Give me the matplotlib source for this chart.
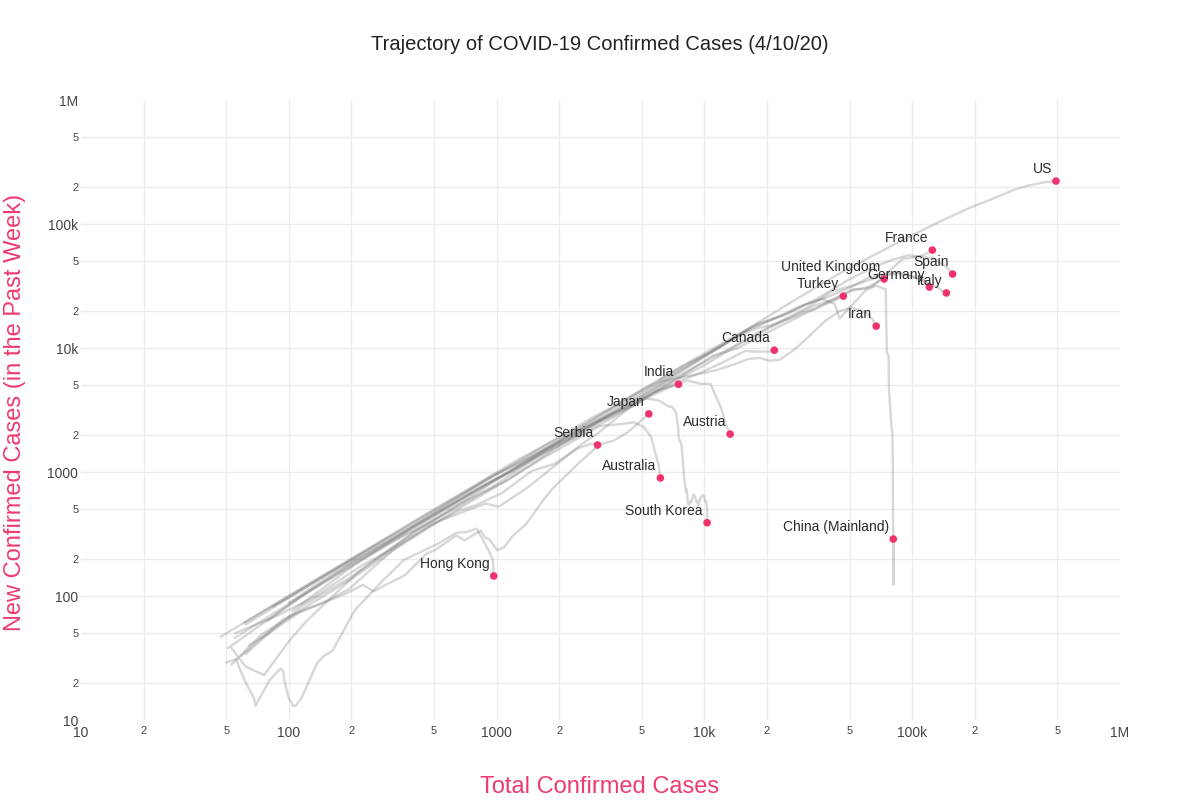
import matplotlib
matplotlib.use("Agg")
import matplotlib.pyplot as plt
from matplotlib.ticker import FixedLocator, NullLocator

plt.rcParams['font.family'] = ['Liberation Sans', 'DejaVu Sans']

# ---------------- data (total confirmed, new in past week) ----------------
us_total = [53, 62, 76, 101, 122, 217, 417, 568, 1281, 2179, 3499, 6421, 13677, 25489, 43847,
            65778, 101657, 140886, 188172, 243453, 311357, 366614, 432132, 492000]
us_new = [38, 27, 23, 44, 63, 157, 347, 467, 1126, 1919, 3000, 5460, 12000, 22800, 39200,
          56400, 82500, 107600, 134500, 159600, 189900, 204800, 217000, 222000]

it_total = [62, 229, 453, 888, 1694, 2502, 3858, 5883, 9172, 12462, 17660, 24747, 31506, 41035,
            53578, 63927, 74386, 86498, 97689, 105792, 115242, 124632, 132547, 139422, 146000]
it_new = [59, 226, 450, 868, 1539, 2180, 3203, 4755, 7136, 9373, 13024, 17372, 21357, 28573,
          32421, 35947, 38673, 39477, 38551, 36616, 34653, 32160, 30808, 28848, 27800]

es_total = [84, 165, 259, 500, 1073, 2277, 5232, 7798, 11748, 17963, 25374, 35136, 49515, 65719,
            80110, 95923, 112065, 126168, 136675, 148220, 156500]
es_new = [82, 159, 244, 455, 953, 2055, 4832, 7125, 10053, 15686, 18983, 25194, 35605, 45309,
          51342, 56038, 54279, 52933, 48719, 44102, 39500]

fr_total = [100, 130, 204, 380, 957, 1217, 2289, 3667, 4513, 7699, 10947, 14431, 19856, 25233,
            32964, 40174, 52128, 59105, 64338, 89953, 98010, 112950, 125000]
fr_new = [88, 118, 190, 342, 857, 1026, 2001, 3011, 3379, 5907, 8663, 9951, 13206, 16128,
          20238, 23998, 29824, 29950, 31374, 52378, 53460, 55961, 61600]

de_total = [79, 130, 196, 482, 799, 1176, 1908, 3675, 5795, 9257, 15320, 22213, 29056, 37323,
            50871, 62095, 71808, 84794, 96092, 103374, 113296, 121000]
de_new = [63, 114, 179, 436, 720, 1017, 1646, 3005, 4755, 7800, 13242, 17628, 21784, 24996,
          31023, 37222, 38822, 40856, 38397, 36489, 35424, 31000]

uk_total = [51, 116, 209, 321, 459, 802, 1144, 1960, 2716, 5067, 6726, 9640, 14745, 19780,
            25481, 33718, 41903, 51608, 60733, 73300]
uk_new = [38, 101, 186, 281, 373, 638, 871, 1576, 2257, 3923, 5175, 6998, 10731, 14039,
          17317, 21906, 24591, 29155, 30868, 36000]

tr_total = [47, 98, 191, 359, 670, 947, 1236, 1529, 1872, 2433, 3629, 5698, 7402, 9217, 10827,
            13531, 15679, 18135, 20921, 23934, 27069, 30217, 34109, 38226, 42282, 46600]
tr_new = [47, 98, 191, 358, 665, 942, 1230, 1482, 1774, 2242, 3270, 5028, 6455, 7981, 9298,
          11659, 13246, 14506, 15223, 16532, 17852, 19390, 20578, 22547, 24147, 26200]

ir_total = [61, 95, 139, 245, 388, 593, 978, 1501, 2336, 2922, 3513, 4747, 5823, 7161, 9000,
            11364, 13938, 16169, 18407, 20610, 23049, 27017, 32332, 38309, 44605, 50468,
            55743, 60500, 64586, 67100]
ir_new = [61, 95, 139, 240, 370, 565, 935, 1440, 2241, 2783, 3268, 4359, 5230, 5660, 6078,
          6617, 7372, 8127, 8332, 7881, 8058, 9656, 12688, 16671, 19794, 21062,
          20335, 19005, 16993, 15000]

ca_total = [64, 79, 117, 198, 415, 657, 943, 1469, 2790, 4042, 5576, 7398, 9560, 12437, 15756,
            17872, 20654, 21700]
ca_new = [40, 49, 84, 141, 338, 549, 750, 1217, 2312, 3242, 4299, 5310, 6300, 7755, 9476,
          9345, 9370, 9600]

in_total = [62, 81, 113, 142, 194, 330, 499, 657, 887, 1024, 1397, 2543, 3082, 4778, 5916, 7500]
in_new = [34, 51, 74, 86, 113, 249, 386, 463, 557, 525, 740, 1656, 2058, 3754, 4519, 5100]

jp_total = [59, 74, 94, 122, 159, 189, 228, 256, 293, 360, 461, 511, 639, 701, 839, 878, 924,
            1007, 1086, 1193, 1387, 1693, 1866, 2495, 3139, 3654, 4257, 5400]
jp_new = [33, 46, 65, 79, 93, 105, 123, 109, 123, 146, 220, 237, 308, 281, 337, 297, 285,
          234, 247, 304, 380, 607, 738, 1188, 1671, 1788, 2079, 2940]

at_total = [55, 104, 182, 302, 655, 1018, 1646, 2388, 3582, 5283, 6909, 8271, 9618, 10711,
            11524, 12051, 12639, 13300]
at_new = [46, 90, 158, 261, 576, 887, 1400, 1884, 2722, 3951, 4896, 5457, 5144, 5123,
          3867, 3263, 2459, 2020]

rs_total = [55, 89, 135, 222, 303, 457, 659, 785, 1060, 1476, 1908, 2447, 2867, 3060]
rs_new = [50, 70, 100, 174, 231, 354, 488, 536, 676, 1019, 1167, 1547, 1696, 1650]

au_total = [53, 74, 100, 127, 200, 297, 452, 681, 1071, 1682, 2364, 3143, 3984, 4559, 5116,
            5550, 5797, 6010, 6140]
au_new = [28, 49, 67, 86, 137, 217, 340, 525, 821, 1305, 1796, 2352, 2435, 2515, 2306,
          1910, 1436, 1148, 895]

kr_total = [104, 204, 433, 602, 833, 977, 1261, 1766, 2337, 3150, 3736, 4335, 5186, 5621, 6088,
            6593, 7041, 7314, 7478, 7513, 7755, 7869, 7979, 8086, 8162, 8236, 8320, 8413,
            8565, 8652, 8799, 8897, 8961, 9037, 9137, 9241, 9332, 9478, 9583, 9661, 9786,
            9887, 9976, 10062, 10156, 10237, 10331, 10300]
kr_new = [76, 175, 403, 571, 802, 946, 1157, 1562, 1904, 2548, 2903, 3358, 3925, 3855, 3751,
          3443, 3305, 2979, 2292, 1892, 1667, 1276, 938, 772, 684, 723, 565, 544,
          586, 566, 637, 661, 641, 624, 572, 589, 533, 581, 622, 624, 649,
          646, 644, 584, 573, 576, 470, 390]

cn_total = [6087, 9802, 16630, 23707, 30587, 36814, 39829, 42354, 44759, 59895, 66358, 68413,
            72434, 74619, 75077, 75550, 77001, 77241, 78166, 79356, 80271, 80651, 80757,
            80945, 81020, 81156, 81250, 81100]
cn_new = [5539, 8882, 14555, 18198, 22446, 24923, 23600, 22638, 17319, 29308, 31600, 31599,
          30080, 29860, 15182, 9192, 8588, 4807, 3547, 2355, 2105, 1295, 606,
          372, 285, 224, 123, 288]

hk_total = [50, 56, 57, 62, 68, 69, 81, 91, 94, 95, 100, 105, 108, 115, 126, 137, 148, 162,
            208, 273, 356, 410, 518, 641, 714, 802, 862, 915, 960, 969]
hk_new = [29, 31, 28, 20, 15, 13, 21, 26, 25, 21, 15, 13, 13, 15, 21, 29, 33, 36,
          77, 125, 194, 218, 262, 324, 328, 349, 280, 233, 195, 145]

names = ["US", "Italy", "Spain", "France", "Germany", "United Kingdom", "Turkey", "Iran",
         "Canada", "India", "Japan", "Austria", "Serbia", "Australia", "South Korea",
         "China (Mainland)", "Hong Kong"]
totals = [us_total, it_total, es_total, fr_total, de_total, uk_total, tr_total, ir_total,
          ca_total, in_total, jp_total, at_total, rs_total, au_total, kr_total, cn_total, hk_total]
news = [us_new, it_new, es_new, fr_new, de_new, uk_new, tr_new, ir_new,
        ca_new, in_new, jp_new, at_new, rs_new, au_new, kr_new, cn_new, hk_new]

tick_values = [10, 20, 50, 100, 200, 500, 1000, 2000, 5000, 1e4, 2e4, 5e4, 1e5, 2e5, 5e5, 1e6]
x_tick_labels = ["10", "2", "5", "100", "2", "5", "1000", "2", "5", "10k", "2", "5",
                 "100k", "2", "5", "1M"]
y_tick_labels = x_tick_labels

# ---------------- style ----------------
PINK = '#ef3a6f'
DOT = '#f0336c'
W, H = 1200, 800

fig = plt.figure(figsize=(12, 8), dpi=100)
ax = fig.add_axes([81 / W, 80 / H, 1039 / W, 620 / H])
ax.set_xscale('log')
ax.set_yscale('log')
ax.set_xlim(10, 1e6)
ax.set_ylim(10, 1e6)

# grid lines at interior ticks only
for v in tick_values[1:-1]:
    ax.axvline(v, color='#ececec', lw=1, zorder=0)
    ax.axhline(v, color='#ececec', lw=1, zorder=0)

for t, n in zip(totals, news):
    ax.plot(t, n, color='#707070', alpha=0.28, lw=1.7, solid_joinstyle='round',
            solid_capstyle='round', zorder=2)

for name, t, n in zip(names, totals, news):
    ax.scatter([t[-1]], [n[-1]], s=30, color=DOT, edgecolors='none', zorder=4)
    ax.annotate(name, (t[-1], n[-1]), xytext=(-3, 3.5), textcoords='offset points',
                ha='right', va='bottom', fontsize=10, color='#2b2b2b', zorder=5)

for axis in (ax.xaxis, ax.yaxis):
    axis.set_major_locator(FixedLocator(tick_values))
    axis.set_minor_locator(NullLocator())
ax.set_xticklabels(x_tick_labels)
ax.set_yticklabels(y_tick_labels)
for lab in ax.get_xticklabels() + ax.get_yticklabels():
    if lab.get_text() in ("2", "5"):
        lab.set_fontsize(8)
    else:
        lab.set_fontsize(10)
    lab.set_color('#444444')
ax.tick_params(axis='x', length=0, pad=4)
ax.tick_params(axis='y', length=0, pad=2)

for s in ax.spines.values():
    s.set_visible(False)

fig.text(0.5, 1 - 44 / H, "Trajectory of COVID-19 Confirmed Cases (4/10/20)",
         ha='center', va='center', fontsize=14.5, color='#222222')
fig.text(600 / W, 1 - 787 / H, "Total Confirmed Cases", ha='center', va='center',
         fontsize=17, color=PINK)
fig.text(15 / W, 1 - 412 / H, "New Confirmed Cases (in the Past Week)", ha='center',
         va='center', rotation=90, fontsize=17, color=PINK)

fig.savefig("out.png", dpi=100, facecolor='white')
